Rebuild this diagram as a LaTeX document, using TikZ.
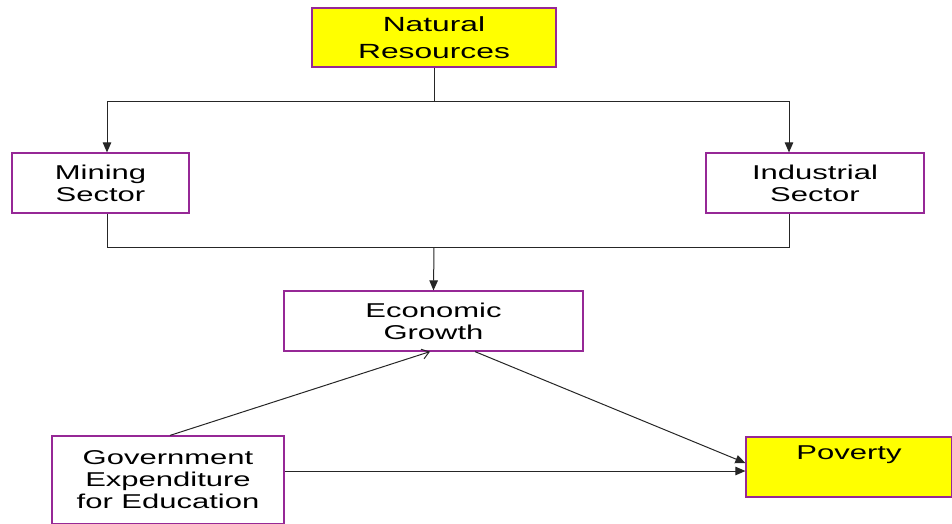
\documentclass[tikz,border=0pt]{standalone}
\usepackage{fontspec}
\setmainfont{Liberation Sans}[FakeStretch=1.55]
\usetikzlibrary{arrows.meta}
\definecolor{boxline}{RGB}{150,40,150}
\definecolor{boxfill}{RGB}{255,255,0}

\begin{document}
\begin{tikzpicture}[x=1pt,y=-1pt,font=\fontsize{20}{22}\selectfont,
  box/.style={draw=boxline, line width=1.2pt, align=center, inner sep=2pt},
  hot/.style={box, fill=boxfill},
  link/.style={line width=1pt, black!85},
  tip/.style={link, -{Triangle[length=10pt,width=8.5pt]}}]
\useasboundingbox (0,0) rectangle (952,523);

\node[hot,minimum width=244,minimum height=59,font=\fontsize{20.5}{27}\selectfont] (nat) at (434,37.5){Natural\\Resources};
\node[box,minimum width=177,minimum height=60] (mining) at (100.5,183){Mining\\Sector};
\node[box,minimum width=218,minimum height=60] (indus) at (815,183){Industrial\\Sector};
\node[box,minimum width=299,minimum height=60] (econ) at (433.5,321){Economic\\Growth};
\node[box,minimum width=232,minimum height=88] (gov) at (168,480){Government\\Expenditure\\for Education};
\node[hot,minimum width=206,minimum height=60] (pov) at (849,467){Poverty\\\strut};

% resources split to the two sectors
\coordinate (split) at (434,101);
\draw[link] (nat.south) -- (split);
\draw[tip] (split) -| ([xshift=6.5]mining.north);
\draw[tip] (split) -| ([xshift=-26]indus.north);

% sectors join into growth
\coordinate (join) at (434,247);
\draw[link] ([xshift=6.5]mining.south) |- ([xshift=-26]indus.south |- join) -- ([xshift=-26]indus.south);
\draw[tip] (join) -- (econ.north);

% growth, education and poverty
\coordinate (povin) at ([yshift=-4]pov.west);
\draw[link,->,>={Straight Barb[length=7pt,width=10pt]}] ([xshift=2]gov.north) -- ([xshift=-3.5]econ.south);
\draw[tip] ([xshift=41.5]econ.south) -- ([yshift=4]pov.west);
\draw[tip] (gov.east |- povin) -- (povin);
\end{tikzpicture}
\end{document}
